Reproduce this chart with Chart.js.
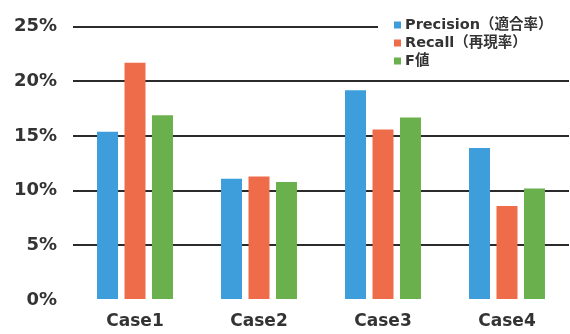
<!DOCTYPE html>
<html>
<head>
<meta charset="utf-8">
<script src="https://cdn.jsdelivr.net/npm/chart.js@4"></script>
<style>
  html, body { margin: 0; padding: 0; background: #fff; }
  #wrap { width: 570px; height: 334px; }
</style>
</head>
<body>
<div id="wrap"><canvas id="c" width="570" height="334"></canvas></div>
<script>
// Evaluation results per case (percent)
const categories = ['Case1', 'Case2', 'Case3', 'Case4'];
const seriesNames = ['Precision（適合率）', 'Recall（再現率）', 'F値'];
const precision = [15.4, 11.1, 19.2, 13.9];
const recall = [21.7, 11.3, 15.6, 8.6];
const fValue = [16.9, 10.8, 16.7, 10.2];
const yTicks = [0, 5, 10, 15, 20, 25];

const colors = ['#3e9edb', '#ef6c4b', '#6ab14d'];
const textColor = '#333333';
const fontFamily = '"DejaVu Sans", "Noto Sans CJK JP", sans-serif';

// Legend drawn as a stacked list in the top-right corner on a white panel
const cornerLegend = {
  id: 'cornerLegend',
  afterDraw(chart) {
    const ctx = chart.ctx;
    ctx.save();
    ctx.fillStyle = '#ffffff';
    ctx.fillRect(378, 8, 192, 64);
    ctx.font = 'bold 14.5px ' + fontFamily;
    ctx.textBaseline = 'middle';
    ctx.textAlign = 'left';
    chart.data.datasets.forEach((ds, i) => {
      const cy = 25 + i * 18;
      ctx.fillStyle = ds.backgroundColor;
      ctx.fillRect(394, cy - 3.5, 7, 7);
      ctx.fillStyle = textColor;
      ctx.fillText(ds.label, 405, cy);
    });
    ctx.restore();
  }
};

// Three bars per case, each about 21px wide with a small gap between them
const barStyle = { categoryPercentage: 0.665, barPercentage: 0.764, borderWidth: 0 };

new Chart(document.getElementById('c'), {
  type: 'bar',
  data: {
    labels: categories,
    datasets: [
      Object.assign({ label: seriesNames[0], data: precision, backgroundColor: colors[0] }, barStyle),
      Object.assign({ label: seriesNames[1], data: recall, backgroundColor: colors[1] }, barStyle),
      Object.assign({ label: seriesNames[2], data: fValue, backgroundColor: colors[2] }, barStyle)
    ]
  },
  options: {
    responsive: false,
    animation: false,
    devicePixelRatio: 1,
    layout: { padding: { top: 23, right: 1, bottom: 0, left: 0 } },
    plugins: {
      legend: { display: false },
      tooltip: { enabled: false }
    },
    scales: {
      x: {
        grid: { display: false, drawTicks: false },
        border: { display: false },
        ticks: {
          color: textColor,
          font: { family: fontFamily, size: 17, weight: 'bold' },
          padding: 11,
          maxRotation: 0
        },
        afterFit(scale) { scale.height = 34; }
      },
      y: {
        min: 0,
        max: 25,
        afterBuildTicks(scale) { scale.ticks = yTicks.map(v => ({ value: v })); },
        grid: {
          drawTicks: false,
          lineWidth: 2,
          color: (c) => (c.tick && c.tick.value === 0 ? 'rgba(0,0,0,0)' : '#2b2b2b')
        },
        border: { display: false },
        ticks: {
          color: textColor,
          font: { family: fontFamily, size: 18, weight: 'bold' },
          padding: 16,
          callback: (v) => v + '%'
        },
        afterFit(scale) { scale.width = 73; }
      }
    }
  },
  plugins: [cornerLegend]
});
</script>
</body>
</html>
